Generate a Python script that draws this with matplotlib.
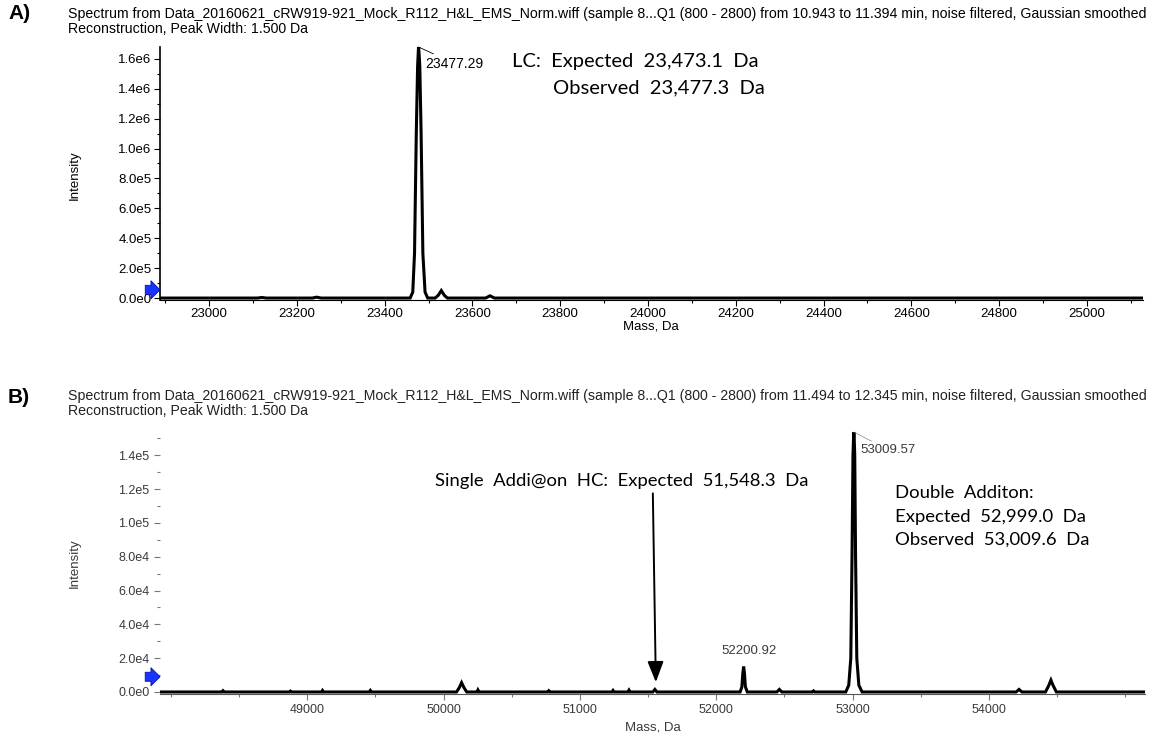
import numpy as np
import matplotlib
matplotlib.use("Agg")
import matplotlib.pyplot as plt
from matplotlib.ticker import MultipleLocator, FuncFormatter

# --- data (mass in Da, intensity in counts) ---
# panel A: light chain reconstruction
mass_a = [22888, 23110, 23120, 23130, 23235, 23245, 23255,
          23458, 23464, 23468, 23472, 23475, 23477.3, 23480, 23483, 23487, 23492, 23498,
          23515, 23522, 23529, 23536, 23543,
          23630, 23640, 23650, 25128]
int_a = [0, 0, 4000, 0, 0, 6000, 0,
         0, 40000, 300000, 1100000, 1550000, 1690000, 1550000, 1100000, 300000, 40000, 0,
         0, 18000, 50000, 18000, 0,
         0, 15000, 0, 0]

# panel B: heavy chain reconstruction
mass_b = [47920, 48375, 48382, 48390, 48870, 48877, 48885, 49105, 49112, 49120, 49455, 49463, 49471,
          50095, 50115, 50132, 50150, 50170, 50245, 50252, 50260,
          50765, 50772, 50780, 51235, 51243, 51251, 51352, 51360, 51368,
          51535, 51550, 51565,
          52175, 52188, 52195, 52201, 52207, 52214, 52228,
          52445, 52463, 52481, 52705, 52713, 52721,
          52950, 52972, 52987, 52996, 53003, 53009.6, 53016, 53022, 53031, 53046, 53070,
          54200, 54221, 54242,
          54415, 54440, 54455, 54470, 54495,
          55145]
int_b = [0, 0, 700, 0, 0, 500, 0, 0, 900, 0, 0, 900, 0,
         0, 2500, 5500, 2500, 0, 0, 1200, 0,
         0, 700, 0, 0, 900, 0, 0, 1100, 0,
         0, 1500, 0,
         0, 3000, 11000, 15000, 11000, 3000, 0,
         0, 1500, 0, 0, 600, 0,
         0, 4000, 20000, 80000, 140000, 156000, 140000, 80000, 20000, 4000, 0,
         0, 1500, 0,
         0, 4000, 7000, 4000, 0,
         0]

xticks_a = [23000, 23200, 23400, 23600, 23800, 24000, 24200, 24400, 24600, 24800, 25000]
xticks_b = [49000, 50000, 51000, 52000, 53000, 54000]

peak_a = 23477.29
peaks_b = [53009.57, 52200.92]
expected_single = 51548.3

title_a = ("Spectrum from Data_20160621_cRW919-921_Mock_R112_H&L_EMS_Norm.wiff (sample 8...Q1 (800 - 2800) "
           "from 10.943 to 11.394 min, noise filtered, Gaussian smoothed\nReconstruction, Peak Width: 1.500 Da")
title_b = ("Spectrum from Data_20160621_cRW919-921_Mock_R112_H&L_EMS_Norm.wiff (sample 8...Q1 (800 - 2800) "
           "from 11.494 to 12.345 min, noise filtered, Gaussian smoothed\nReconstruction, Peak Width: 1.500 Da")

plt.rcParams['font.family'] = ['Liberation Sans', 'DejaVu Sans']
W, H = 1151, 738
note_font = ['Lato', 'DejaVu Sans']


def fx(px):
    return px / W


def fy(py):
    return 1 - py / H


def sci(v, pos):
    if v == 0:
        return "0.0e0"
    e = int(np.floor(np.log10(abs(v)) + 1e-9))
    return f"{v / 10 ** e:.1f}e{e}"


def blue_arrow(ax, y):
    ax.annotate('', xy=(0, y), xycoords=('axes fraction', 'data'),
                xytext=(-0.015, y), textcoords=('axes fraction', 'data'),
                arrowprops=dict(arrowstyle='simple,head_length=0.5,head_width=1.0,tail_width=0.5',
                                fc='#1a33ff', ec='#0010a0', lw=0.6, mutation_scale=13,
                                shrinkA=0, shrinkB=0),
                annotation_clip=False)


fig = plt.figure(figsize=(W / 100, H / 100), dpi=100)

# ---------------- panel A ----------------
axA = fig.add_axes([fx(160), fy(300), fx(983), 253 / H])
axA.plot(mass_a, int_a, color='black', lw=2.2, solid_joinstyle='miter')
axA.set_xlim(22888, 25128)
axA.set_ylim(-13000, 1.679e6)
axA.set_xticks(xticks_a)
axA.xaxis.set_minor_locator(MultipleLocator(100))
axA.yaxis.set_major_locator(MultipleLocator(2e5))
axA.yaxis.set_minor_locator(MultipleLocator(1e5))
axA.yaxis.set_major_formatter(FuncFormatter(sci))
axA.tick_params(labelsize=9.5, length=4, width=0.8, direction='out', pad=2)
axA.tick_params(which='minor', length=2, width=0.8)
for s in ('top', 'right'):
    axA.spines[s].set_visible(False)
axA.spines['left'].set_linewidth(1.2)
axA.annotate(f"{peak_a:.2f}", xy=(peak_a, 1.679e6), xytext=(5, -12), textcoords='offset points',
             fontsize=10, ha='left', va='center',
             arrowprops=dict(arrowstyle='-', lw=0.6, shrinkA=0, shrinkB=0))
blue_arrow(axA, 55000)

fig.text(fx(8), fy(4), "A)", fontsize=15, fontweight='bold', va='top', ha='left')
fig.text(fx(68), fy(7), title_a, fontsize=10.2, va='top', ha='left', linespacing=1.1)
fig.text(fx(75), fy(175), "Intensity", rotation=90, fontsize=9.5, ha='center', va='center')
fig.text(fx(651), fy(326), "Mass, Da", fontsize=9.5, ha='center', va='center')

fig.text(fx(512), fy(62), "LC:  Expected  23,473.1  Da", family=note_font,
         fontsize=14.5, ha='left', va='center')
fig.text(fx(553), fy(88), "Observed  23,477.3  Da", family=note_font,
         fontsize=14.5, ha='left', va='center')

# ---------------- panel B ----------------
grey = '#3a3a3a'
axB = fig.add_axes([fx(160), fy(694), fx(985), 262 / H])
axB.plot(mass_b, int_b, color='black', lw=2.2, solid_joinstyle='miter')
axB.set_xlim(47920, 55145)
axB.set_ylim(-1200, 153800)
axB.set_xticks(xticks_b)
axB.xaxis.set_minor_locator(MultipleLocator(500))
axB.yaxis.set_major_locator(MultipleLocator(2e4))
axB.yaxis.set_minor_locator(MultipleLocator(1e4))
axB.yaxis.set_major_formatter(FuncFormatter(sci))
axB.tick_params(labelsize=9, length=4, width=0.8, direction='out', color='#777777', labelcolor=grey)
axB.tick_params(which='minor', length=2, width=0.8, color='#777777')
for s in ('top', 'right', 'left'):
    axB.spines[s].set_visible(False)
axB.spines['bottom'].set_color('#555555')

axB.annotate(f"{peaks_b[0]:.2f}", xy=(peaks_b[0], 153800), xytext=(5, -13), textcoords='offset points',
             fontsize=9.5, ha='left', va='center', color=grey,
             arrowprops=dict(arrowstyle='-', lw=0.5, color='#888888', shrinkA=0, shrinkB=0))
axB.annotate(f"{peaks_b[1]:.2f}", xy=(peaks_b[1], 15000), xytext=(4, 7), textcoords='offset points',
             fontsize=9.5, ha='center', va='bottom', color=grey)
axB.annotate('', xy=(51557, 5800), xytext=(51535, 117500),
             arrowprops=dict(arrowstyle='-|>,head_length=0.9,head_width=0.35', lw=1.4,
                             color='black', mutation_scale=14, shrinkA=0, shrinkB=0))
blue_arrow(axB, 9000)

fig.text(fx(8), fy(388), "B)", fontsize=15, fontweight='bold', va='top', ha='left')
fig.text(fx(68), fy(389), title_b, fontsize=10.2, va='top', ha='left', linespacing=1.1, color='#222222')
fig.text(fx(75), fy(563), "Intensity", rotation=90, fontsize=9.5, ha='center', va='center', color=grey)
fig.text(fx(653), fy(727), "Mass, Da", fontsize=9.5, ha='center', va='center', color=grey)

fig.text(fx(435), fy(481), f"Single  Addi@on  HC:  Expected  {expected_single:,.1f}  Da",
         family=note_font, fontsize=13.3, ha='left', va='center')
fig.text(fx(895), fy(485), "Double  Additon:\nExpected  52,999.0  Da\nObserved  53,009.6  Da",
         family=note_font, fontsize=13.3, ha='left', va='top', linespacing=1.58)

fig.savefig("out.png", dpi=100)
